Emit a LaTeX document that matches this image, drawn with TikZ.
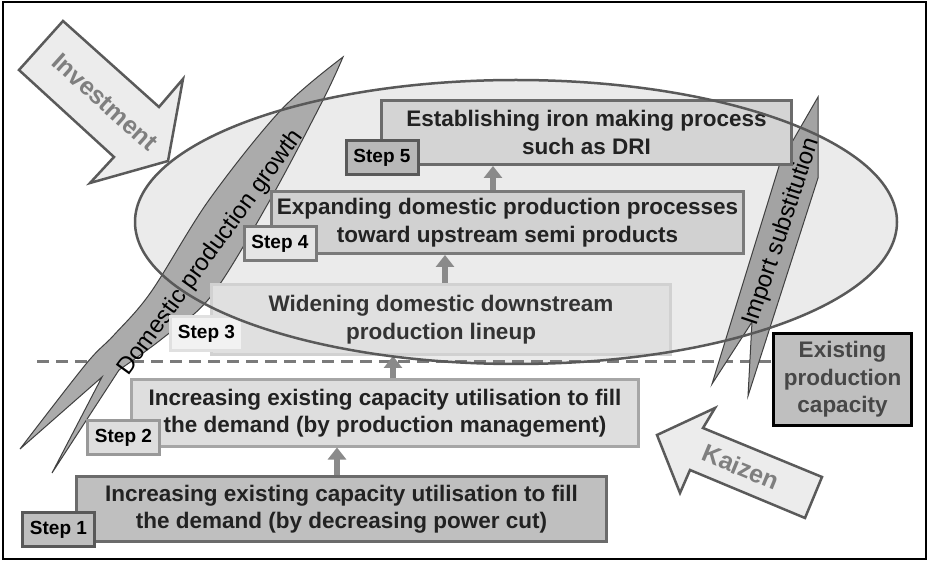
\documentclass[tikz,border=0pt]{standalone}
\usepackage{fontspec}
\setmainfont{Liberation Sans}
\usetikzlibrary{arrows.meta}

\definecolor{ellfill}{HTML}{EBEBEB}
\definecolor{ellline}{HTML}{595959}
\definecolor{blockfill}{HTML}{ECECEC}
\definecolor{blockline}{HTML}{5A5A5A}
\definecolor{blocktext}{HTML}{7F7F7F}
\definecolor{bandfill}{HTML}{ABABAB}
\definecolor{bandline}{HTML}{404040}
\definecolor{txtdark}{HTML}{222222}
\definecolor{upline}{HTML}{8A8A8A}
\definecolor{dashcol}{HTML}{7A7A7A}

\begin{document}
\begin{tikzpicture}[x=1pt,y=-1pt,
  boxtext/.style={font=\fontsize{22.5}{27.5}\selectfont\bfseries, text=txtdark,
    align=center, inner sep=0pt, line width=3pt},
  lbl/.style={font=\fontsize{19}{22}\selectfont\bfseries, text=black,
    inner sep=0pt, line width=3pt, minimum width=72pt, minimum height=34pt},
  blockarrow/.style={fill=blockfill, draw=blockline, line width=2.5pt, line join=miter},
  blocklabel/.style={font=\fontsize{25}{30}\selectfont\bfseries, text=blocktext, inner sep=0pt},
  band/.style={fill=bandfill, draw=bandline, line width=1pt, line join=miter},
  bandlabel/.style={font=\fontsize{24}{28}\selectfont, text=black, inner sep=0pt},
  steparrow/.style={draw=upline, line width=6.5pt, -{Triangle[width=18pt,length=12pt]}},
]
\useasboundingbox (0,0) rectangle (927,561);

% outer frame
\draw[line width=1.5pt] (3,2) rectangle (926,559);

% big ellipse, fill first, outline drawn last
\fill[ellfill] (516,222) ellipse [x radius=381pt, y radius=142pt];

% border between existing capacity and new growth
\coordinate (dashL) at (37,362);
\coordinate (dashR) at (772,362);
\draw[dashcol, line width=3pt, dash pattern=on 12pt off 7pt] (dashL) -- (dashR);

% Investment block arrow
\draw[blockarrow] (19,70) -- (63,21) -- (159,107) -- (183,79) -- (168,161) -- (90,183) -- (114,157) -- cycle;
\node[blocklabel, rotate=-42] (inv) at (105,102) {Investment};

% Kaizen block arrow
\draw[blockarrow] (657,435) -- (715,408) -- (703,428) -- (822,477) -- (805,518) -- (690,470) -- (680,493) -- cycle;
\node[blocklabel, rotate=-22.5] (kai) at (741,467) {Kaizen};

% Domestic production growth band with forked tail
\draw[band] plot[smooth, tension=0.55] coordinates {(343,57) (323,100) (270,200) (212,295) (163,338) (119,370)}
  -- (52,473) -- (102,377) -- (20,449)
  -- plot[smooth, tension=0.55] coordinates {(20,449) (86,364) (114,335) (151,292) (209,200) (281,110) (343,57)} -- cycle;
\node[bandlabel, rotate=54] (grow) at (211,253) {Domestic production growth};

% Import substitution band
\draw[band, fill=bandfill!110] (818,97) -- (818,178) -- (748,396) -- (752,322) -- (712,384) -- (780,163) -- cycle;
\node[bandlabel, rotate=71.5] (imp) at (782,232) {Import substitution};

% steps
\node[boxtext, fill=black!25, draw=black!58, minimum width=530pt, minimum height=65pt] (s1) at (341.5,509)
  {Increasing existing capacity utilisation to fill\\the demand (by decreasing power cut)};
\node[lbl, fill=black!25, draw=black!65] (l1) at (58.5,529.5) {Step 1};

\node[boxtext, fill=black!13, draw=black!35, minimum width=507pt, minimum height=66pt] (s2) at (385,413)
  {Increasing existing capacity utilisation to fill\\the demand (by production management)};
\node[lbl, fill=black!13, draw=black!40] (l2) at (123.5,437.5) {Step 2};

\node[boxtext, text=black!80, fill=black!12, draw=black!18, minimum width=459pt, minimum height=70pt] (s3) at (441,319.5)
  {Widening domestic downstream\\production lineup};
\node[lbl, fill=black!5, draw=black!12] (l3) at (206.5,334) {Step 3};

\node[boxtext, fill=black!18, draw=black!52, minimum width=472pt, minimum height=62pt] (s4) at (507.5,222.5)
  {Expanding domestic production processes\\toward upstream semi products};
\node[lbl, fill=black!10, draw=black!52] (l4) at (280,243.5) {Step 4};

\node[boxtext, fill=black!17, draw=black!58, minimum width=410pt, minimum height=64pt] (s5) at (586.5,132.5)
  {Establishing iron making process\\such as DRI};
\node[lbl, fill=black!28, draw=black!65] (l5) at (382,158) {Step 5};

% upward arrows between steps
\coordinate (x12) at (337,0);
\coordinate (x23) at (393,0);
\coordinate (x34) at (445,0);
\coordinate (x45) at (493,0);
\draw[steparrow] (x12 |- s1.north) -- (x12 |- s2.south);
\draw[steparrow] (x23 |- s2.north) -- (x23 |- s3.south);
\draw[steparrow] (x34 |- s3.north) -- (x34 |- s4.south);
\draw[steparrow] (x45 |- s4.north) -- (x45 |- s5.south);

% existing production capacity
\node[boxtext, text=black!72, fill=black!25, draw=black, line width=3.5pt,
  minimum width=138pt, minimum height=92pt] (exist) at (842.5,379.5)
  {Existing\\production\\capacity};

% ellipse outline on top
\draw[ellline, line width=2.5pt] (516,222) ellipse [x radius=381pt, y radius=142pt];
\end{tikzpicture}
\end{document}
